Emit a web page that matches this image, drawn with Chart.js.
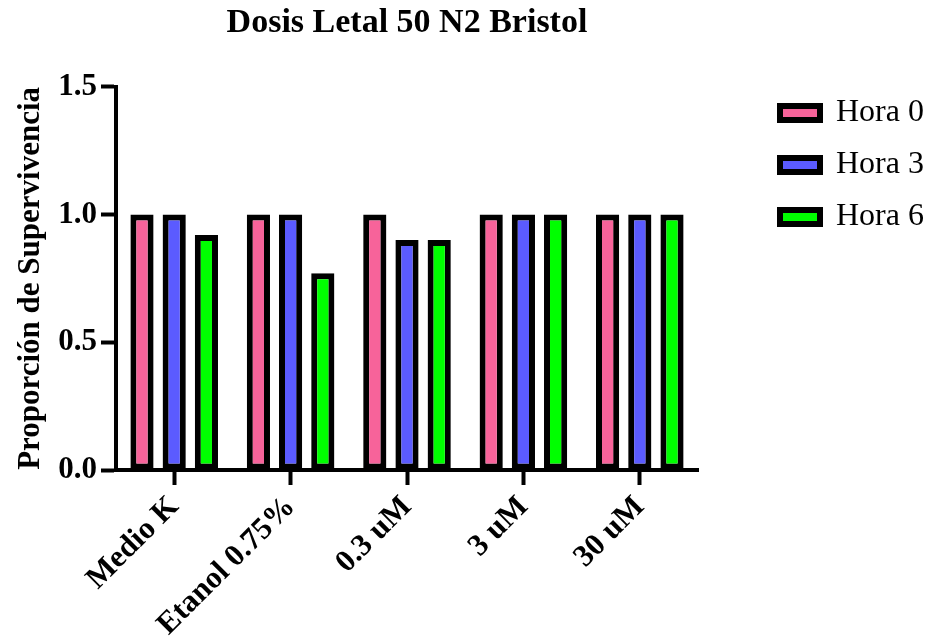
<!DOCTYPE html>
<html lang="es">
<head>
<meta charset="UTF-8">
<title>Dosis Letal 50 N2 Bristol</title>
<script src="https://cdn.jsdelivr.net/npm/chart.js"></script>
<style>
    body { margin: 0; background: #fff; }
    #wrap { width: 937px; height: 642px; }
</style>
</head>
<body>
<div id="wrap"><canvas id="myChart"></canvas></div>
<script>
    // data
    const categories = ['Medio K', 'Etanol 0.75%', '0.3 uM', '3 uM', '30 uM'];
    const hora0 = [1.0, 1.0, 1.0, 1.0, 1.0];
    const hora3 = [1.0, 1.0, 0.9, 1.0, 1.0];
    const hora6 = [0.92, 0.77, 0.9, 1.0, 1.0];
    const yTicks = [0, 0.5, 1.0, 1.5];

    const serif = "'Liberation Serif', 'Times New Roman', serif";

    function bar(label, data, color) {
        return {
            label: label,
            data: data,
            backgroundColor: color,
            borderColor: '#000',
            borderWidth: 6,
            borderSkipped: false,
            categoryPercentage: 0.83,
            barPercentage: 0.72
        };
    }

    const ctx = document.getElementById('myChart');
    const myChart = new Chart(ctx, {
        type: 'bar',
        data: {
            labels: categories,
            datasets: [
                bar('Hora 0', hora0, '#f7639a'),
                bar('Hora 3', hora3, '#5b5bff'),
                bar('Hora 6', hora6, '#00ff00')
            ]
        },
        options: {
            responsive: true,
            maintainAspectRatio: false,
            animation: false,
            layout: { padding: { left: 0, right: 13, top: 0, bottom: 0 } },
            plugins: {
                title: {
                    display: true,
                    text: 'Dosis Letal 50 N2 Bristol',
                    color: '#000',
                    fullSize: false,
                    font: { family: serif, size: 34, weight: 'bold' },
                    padding: { top: 3, bottom: 43 }
                },
                legend: {
                    position: 'right',
                    align: 'start',
                    // empty title only pushes the items down
                    title: { display: true, text: ' ', font: { size: 10 }, padding: { top: 75, bottom: 0 } },
                    labels: {
                        color: '#000',
                        font: { family: serif, size: 32, lineHeight: 1.3125 },
                        boxWidth: 40,
                        boxHeight: 14,
                        padding: 10,
                        // one-line arrays so the row height follows the lineHeight
                        generateLabels: function (chart) {
                            const items = Chart.defaults.plugins.legend.labels.generateLabels(chart);
                            items.forEach(it => { it.text = [it.text]; });
                            return items;
                        }
                    }
                },
                tooltip: { enabled: false }
            },
            scales: {
                x: {
                    offset: true,
                    afterFit: function (scale) { scale.height = 172; },
                    border: { color: '#000', width: 4 },
                    grid: {
                        offset: false,
                        drawOnChartArea: false,
                        color: '#000',
                        tickLength: 15,
                        tickWidth: 4
                    },
                    ticks: {
                        color: '#000',
                        minRotation: 45,
                        maxRotation: 45,
                        padding: 4,
                        font: { family: serif, size: 31, weight: 'bold' }
                    }
                },
                y: {
                    min: 0,
                    max: 1.5,
                    afterFit: function (scale) { scale.width = 116; },
                    afterBuildTicks: function (axis) {
                        axis.ticks = yTicks.map(v => ({ value: v }));
                    },
                    border: { color: '#000', width: 4 },
                    grid: {
                        drawOnChartArea: false,
                        color: '#000',
                        tickLength: 15,
                        tickWidth: 4
                    },
                    ticks: {
                        color: '#000',
                        padding: 4,
                        font: { family: serif, size: 31, weight: 'bold' },
                        callback: function (v) { return Number(v).toFixed(1); }
                    },
                    title: {
                        display: true,
                        text: 'Proporción de Supervivencia',
                        color: '#000',
                        font: { family: serif, size: 31, weight: 'bold' },
                        padding: { top: 12, bottom: 0 }
                    }
                },
                // blank spacer between plot and legend
                gap: {
                    position: 'right',
                    afterFit: function (scale) { scale.width = 72; },
                    border: { display: false },
                    grid: { display: false },
                    ticks: { display: false }
                }
            }
        }
    });
</script>
</body>
</html>
